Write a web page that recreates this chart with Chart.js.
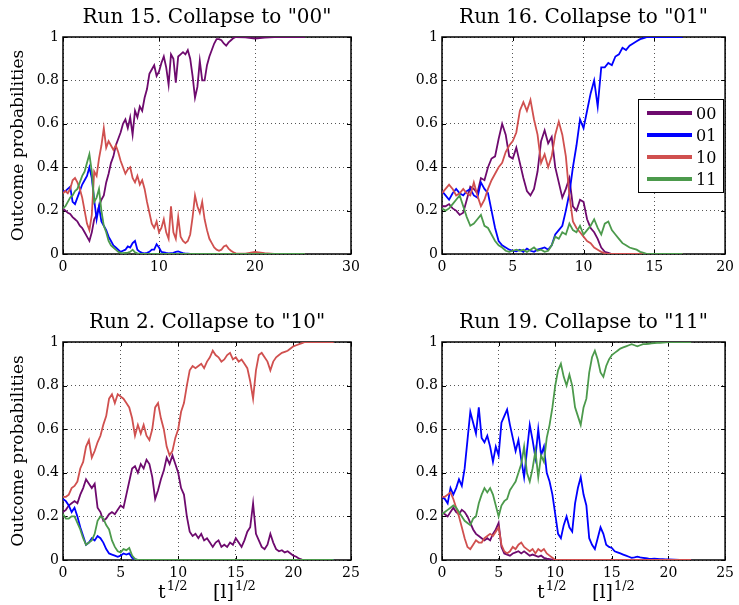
<!DOCTYPE html>
<html>
<head>
<meta charset="utf-8">
<script src="https://cdn.jsdelivr.net/npm/chart.js@4.4.0/dist/chart.umd.min.js"></script>
<style>
body{margin:0;background:#fff;}
#wrap{position:relative;width:739px;height:605px;}
canvas{position:absolute;}
</style>
</head>
<body>
<div id="wrap">
<canvas id="c15" width="370" height="300" style="left:0;top:0"></canvas>
<canvas id="c16" width="369" height="300" style="left:370px;top:0"></canvas>
<canvas id="c2" width="370" height="305" style="left:0;top:300px"></canvas>
<canvas id="c19" width="369" height="305" style="left:370px;top:300px"></canvas>
</div>
<script>
/**************************donnees*********************************/
const outcomes = ['00', '01', '10', '11'];
const colors = ['#6e0a6e', '#0000ff', '#d0504f', '#4c9a4c'];
const yTickLabels = ['0', '0.2', '0.4', '0.6', '0.8', '1'];

// Run 15, collapse to "00"
const t15 = [0,0.25,0.5,0.75,1,1.25,1.5,1.75,2,2.25,2.5,2.75,3,3.25,3.5,3.75,4,4.25,4.5,4.75,
  5,5.25,5.5,5.75,6,6.25,6.5,6.75,7,7.25,7.5,7.75,8,8.25,8.5,8.75,9,9.25,9.5,9.75,
  10,10.25,10.5,10.75,11,11.25,11.5,11.75,12,12.25,12.5,12.75,13,13.25,13.5,13.75,14,14.25,14.5,14.75,
  15,15.25,15.5,15.75,16,16.25,16.5,16.75,17,17.25,17.5,17.75,18,19,20,21,22,23,24,25.2];
const r15_00 = [.21,.20,.19,.185, .17,.16,.15,.13, .12,.10,.08,.06, .10,.16,.18,.22, .25,.27,.33,.37,
  .42,.45,.50,.53, .56,.60,.62,.58, .63,.55,.66,.63, .68,.66,.72,.76, .83,.85,.87,.82,
  .84,.88,.91,.86, .78,.92,.90,.79, .91,.92,.93,.92, .94,.90,.82,.72, .77,.89,.80,.80,
  .87,.91,.94,.97, .99,.99,.985,.97, .96,.975,.985,.995, 1, .998,.993,.997,1,1,1,1];
const r15_01 = [.29,.29,.30,.31, .24,.23,.26,.29, .32,.34,.36,.40, .35,.25,.16,.22, .15,.13,.11,.08,
  .06,.04,.03,.02, .01,.015,.02,.035, .03,.05,.06,.02, .01,.005,.003,.005, .01,.02,.02,.045,
  .03,.01,.008,.005, .003,.004,.005,.01, .012,.008,.004,.002, .002,.001,.001,.001, 0,0,0,0,
  0,0,0,0, 0,0,0,0, 0,0,0,0, 0, 0,0,0,0,0,0,0];
const r15_10 = [.28,.29,.28,.30, .34,.35,.33,.30, .26,.20,.14,.11, .18,.38,.36,.44, .50,.58,.49,.52,
  .50,.48,.50,.47, .43,.40,.37,.39, .40,.35,.33,.36, .32,.34,.30,.24, .19,.14,.12,.15,
  .10,.12,.16,.10, .07,.22,.10,.07, .17,.08,.06,.05, .06,.09,.17,.27, .22,.19,.24,.16,
  .11,.07,.05,.03, .02,.015,.02,.035, .04,.025,.015,.008, .003, .002,.01,.004,0,0,0,0];
const r15_11 = [.21,.22,.24,.26, .27,.29,.30,.33, .36,.38,.42,.46, .38,.24,.26,.30, .20,.13,.10,.06,
  .04,.03,.02,.01, .005,.004,.005,.006, .01,.02,.008,.003, 0,0,0,0, 0,0,0,0,
  0,0,0,0, 0,0,0,0, 0,0,0,0, 0,0,0,0, 0,0,0,0,
  0,0,0,0, 0,0,0,0, 0,0,0,0, 0, 0,0,0,0,0,0,0];

// Run 16, collapse to "01"
const t16 = [0,0.25,0.5,0.75,1,1.25,1.5,1.75,2,2.25,2.5,2.75,3,3.25,3.5,3.75,4,4.25,4.5,4.75,
  5,5.25,5.5,5.75,6,6.25,6.5,6.75,7,7.25,7.5,7.75,8,8.25,8.5,8.75,9,9.25,9.5,9.75,
  10,10.25,10.5,10.75,11,11.25,11.5,11.75,12,12.25,12.5,12.75,13,13.25,13.5,13.75,14,14.25,14.5,15,16,17];
const r16_00 = [.22,.22,.23,.21, .20,.18,.19,.25, .31,.30,.28,.35, .34,.40,.44,.45, .53,.60,.55,.45,
  .44,.49,.42,.35, .29,.27,.30,.38, .52,.57,.51,.54, .40,.33,.26,.30, .35,.22,.20,.25,
  .24,.16,.12,.10, .07,.03,.01,.005, 0,0,0,0, 0,0,0,0, 0,0,0, 0,0,0];
const r16_01 = [.29,.27,.25,.28, .30,.28,.27,.29, .30,.27,.26,.33, .30,.28,.20,.12, .06,.04,.03,.02,
  .015,.012,.02,.01, .025,.015,.01,.02, .025,.03,.02,.04, .09,.11,.13,.20, .28,.40,.50,.62,
  .58,.66,.74,.80, .68,.86,.86,.88, .87,.91,.92,.95, .94,.96,.97,.98, .99,.995,1, 1,1,1];
const r16_10 = [.28,.30,.32,.30, .27,.28,.30,.28, .27,.33,.27,.22, .25,.30,.34,.37, .40,.42,.47,.50,
  .52,.56,.66,.70, .66,.71,.62,.55, .42,.46,.40,.45, .55,.61,.55,.45, .27,.15,.12,.10,
  .08,.06,.05,.03, .02,.01,.003,0, 0,0,0,0, 0,0,0,0, 0,0,0, 0,0,0];
const r16_11 = [.21,.20,.21,.23, .25,.27,.22,.17, .13,.14,.16,.18, .13,.12,.09,.06, .04,.03,.015,.01,
  .015,.02,.015,.02, .01,.02,.03,.015, .02,.01,.015,.04, .08,.07,.10,.09, .14,.11,.10,.13,
  .09,.11,.13,.16, .12,.09,.14,.15, .11,.09,.07,.05, .04,.03,.025,.02, .01,.005,0, 0,0,0];

// Run 2, collapse to "10"
const t2 = [0,0.25,0.5,0.75,1,1.25,1.5,1.75,2,2.25,2.5,2.75,3,3.25,3.5,3.75,4,4.25,4.5,4.75,
  5,5.25,5.5,5.75,6,6.25,6.5,6.75,7,7.25,7.5,7.75,8,8.25,8.5,8.75,9,9.25,9.5,9.75,
  10,10.25,10.5,10.75,11,11.25,11.5,11.75,12,12.25,12.5,12.75,13,13.25,13.5,13.75,14,14.25,14.5,14.75,
  15,15.25,15.5,15.75,16,16.25,16.5,16.75,17,17.25,17.5,17.75,18,18.25,18.5,18.75,19,19.25,19.5,19.75,
  20,20.25,20.5,20.75,21,22,23,23.5];
const r2_00 = [.22,.23,.25,.26, .27,.26,.30,.33, .37,.35,.33,.35, .24,.22,.18,.19, .21,.22,.21,.23,
  .25,.24,.30,.36, .42,.43,.40,.44, .42,.46,.44,.38, .28,.32,.37,.41, .47,.44,.48,.44,
  .40,.33,.30,.20, .13,.11,.12,.10, .12,.09,.10,.08, .06,.08,.09,.06, .07,.06,.08,.07,
  .10,.08,.06,.09, .13,.15,.26,.12, .09,.06,.05,.07, .12,.08,.05,.04, .045,.035,.04,.03,
  .02,.015,.006,.002, 0, 0,0,0];
const r2_01 = [.28,.27,.25,.22, .24,.20,.15,.11, .07,.08,.10,.09, .11,.10,.08,.05, .03,.025,.02,.015,
  .02,.03,.025,.03, .01,.003,0,0, 0,0,0,0, 0,0,0,0, 0,0,0,0,
  0,0,0,0, 0,0,0,0, 0,0,0,0, 0,0,0,0, 0,0,0,0,
  0,0,0,0, 0,0,0,0, 0,0,0,0, 0,0,0,0, 0,0,0,0,
  0,0,0,0, 0, 0,0,0];
const r2_10 = [.29,.29,.30,.33, .34,.36,.42,.45, .52,.55,.47,.50, .54,.57,.62,.66, .74,.76,.72,.76,
  .75,.74,.72,.70, .65,.57,.62,.58, .62,.57,.55,.60, .70,.72,.65,.60, .52,.48,.50,.56,
  .60,.68,.72,.80, .87,.89,.88,.89, .90,.88,.91,.93, .96,.94,.93,.91, .92,.94,.95,.92,
  .93,.91,.92,.90, .88,.82,.74,.87, .94,.95,.93,.91, .87,.91,.93,.94, .95,.955,.96,.97,
  .98,.985,.99,.995, 1, 1,1,1];
const r2_11 = [.21,.19,.19,.20, .20,.17,.14,.10, .07,.08,.09,.12, .18,.20,.19,.16, .14,.09,.06,.04,
  .035,.05,.045,.055, .02,.005,0,0, 0,0,0,0, 0,0,0,0, 0,0,0,0,
  0,0,0,0, 0,0,0,0, 0,0,0,0, 0,0,0,0, 0,0,0,0,
  0,0,0,0, 0,0,0,0, 0,0,0,0, 0,0,0,0, 0,0,0,0,
  0,0,0,0, 0, 0,0,0];

// Run 19, collapse to "11"
const t19 = [0,0.25,0.5,0.75,1,1.25,1.5,1.75,2,2.25,2.5,2.75,3,3.25,3.5,3.75,4,4.25,4.5,4.75,
  5,5.25,5.5,5.75,6,6.25,6.5,6.75,7,7.25,7.5,7.75,8,8.25,8.5,8.75,9,9.25,9.5,9.75,
  10,10.25,10.5,10.75,11,11.25,11.5,11.75,12,12.25,12.5,12.75,13,13.25,13.5,13.75,14,14.25,14.5,14.75,
  15,15.25,15.5,15.75,16,16.25,16.5,16.75,17,17.25,17.5,17.75,18,18.25,18.5,18.75,19,19.25,19.5,19.75,
  20,21,22];
const r19_00 = [.22,.21,.20,.22, .24,.22,.21,.23, .22,.20,.17,.14, .12,.11,.10,.09, .10,.09,.12,.14,
  .17,.06,.03,.025, .02,.03,.035,.04, .03,.04,.03,.02, .025,.02,.015,.02, .01,.006,.004,.002,
  0,0,0,0, 0,0,0,0, 0,0,0,0, 0,0,0,0, 0,0,0,0,
  0,0,0,0, 0,0,0,0, 0,0,0,0, 0,0,0,0, 0,0,0,0,
  0, 0,0];
const r19_01 = [.29,.28,.26,.33, .30,.33,.37,.34, .42,.55,.68,.63, .58,.70,.56,.54, .57,.52,.45,.52,
  .48,.63,.66,.69, .62,.56,.50,.55, .46,.38,.50,.62, .55,.47,.60,.48, .52,.40,.36,.30,
  .21,.12,.10,.16, .20,.15,.13,.26, .33,.38,.30,.25, .10,.07,.05,.10, .15,.12,.07,.06,
  .055,.04,.035,.03, .025,.02,.015,.01, .012,.015,.012,.01, .008,.006,.005,.006, .005,.004,.004,.003,
  .003, .001,0];
const r19_10 = [.29,.29,.30,.31, .28,.24,.20,.15, .10,.06,.05,.07, .09,.08,.08,.10, .11,.12,.11,.13,
  .15,.07,.04,.03, .04,.06,.05,.07, .08,.06,.05,.04, .05,.03,.05,.04, .05,.03,.02,.01,
  0,0,0,0, 0,0,0,0, 0,0,0,0, 0,0,0,0, 0,0,0,0,
  0,0,0,0, 0,0,0,0, 0,0,0,0, 0,0,0,0, 0,0,0,0,
  0, 0,0];
const r19_11 = [.21,.22,.23,.24, .25,.24,.22,.20, .18,.17,.16,.19, .20,.26,.30,.33, .31,.33,.30,.25,
  .20,.25,.27,.28, .32,.34,.36,.40, .44,.52,.40,.36, .42,.50,.38,.48, .45,.56,.62,.70,
  .80,.87,.90,.84, .80,.85,.80,.70, .66,.62,.70,.74, .86,.93,.96,.92, .86,.84,.89,.92,
  .94,.95,.96,.97, .975,.98,.985,.99, .985,.98,.985,.99, .99,.992,.994,.995, .996,.996,.997,.998,
  .999, 1,1];

/**************************cadre, titres, legende*********************************/
const serif = '"DejaVu Serif", serif';

const frame = {
  id: 'frame',
  beforeDatasetsDraw(chart) {
    const {ctx, chartArea: a, scales: {x, y}} = chart;
    ctx.save();
    ctx.strokeStyle = '#000';
    ctx.lineWidth = 1;
    ctx.beginPath();
    x.ticks.forEach(tk => {
      const px = Math.round(x.getPixelForValue(tk.value)) + 0.5;
      ctx.moveTo(px, a.bottom); ctx.lineTo(px, a.bottom - 4);
      ctx.moveTo(px, a.top); ctx.lineTo(px, a.top + 4);
    });
    y.ticks.forEach(tk => {
      const py = Math.round(y.getPixelForValue(tk.value)) + 0.5;
      ctx.moveTo(a.left, py); ctx.lineTo(a.left + 4, py);
      ctx.moveTo(a.right, py); ctx.lineTo(a.right - 4, py);
    });
    ctx.stroke();
    ctx.lineWidth = 1.5;
    ctx.strokeRect(a.left, a.top, a.right - a.left, a.bottom - a.top);
    ctx.restore();
  },
  afterDraw(chart, args, o) {
    const {ctx, chartArea: a} = chart;
    ctx.save();
    ctx.fillStyle = '#000';
    ctx.textBaseline = 'alphabetic';
    ctx.textAlign = 'center';
    ctx.font = '20px ' + serif;
    ctx.fillText(o.title, (a.left + a.right) / 2, a.top - 14);

    if (o.xlabel) {
      const by = chart.height - 7;
      ctx.textAlign = 'left';
      let bx = a.left + 95;
      ['t', '[l]'].forEach((s, k) => {
        if (k == 1) bx = a.left + 150;
        ctx.font = '19px ' + serif;
        ctx.fillText(s, bx, by);
        const w = ctx.measureText(s).width;
        ctx.font = '13px ' + serif;
        ctx.fillText('1/2', bx + w + 1, by - 8);
      });
    }

    if (o.legend) {
      const lx = a.left + 196, ly = a.top + 62;
      ctx.fillStyle = '#fff';
      ctx.fillRect(lx, ly, 85, 93);
      ctx.strokeStyle = '#000';
      ctx.lineWidth = 1;
      ctx.strokeRect(lx + 0.5, ly + 0.5, 85, 93);
      ctx.font = '16px ' + serif;
      ctx.textAlign = 'left';
      chart.data.datasets.forEach((ds, i) => {
        const yy = ly + 14 + i * 22;
        ctx.strokeStyle = ds.borderColor;
        ctx.lineWidth = 4;
        ctx.beginPath();
        ctx.moveTo(lx + 9, yy); ctx.lineTo(lx + 54, yy);
        ctx.stroke();
        ctx.fillStyle = '#000';
        ctx.fillText(ds.label, lx + 58, yy + 6);
      });
    }
    ctx.restore();
  }
};

/**************************graphiques*********************************/
function panel(id, title, t, series, xMax, xStep, lay) {
  const datasets = series.map((vals, i) => ({
    label: outcomes[i],
    data: t.map((tx, k) => ({x: tx, y: vals[k]})),
    borderColor: colors[i],
    borderWidth: 1.8,
    pointRadius: 0,
    tension: 0,
    fill: false,
    order: 4 - i
  }));
  return new Chart(document.getElementById(id), {
    type: 'line',
    data: {datasets: datasets},
    plugins: [frame],
    options: {
      responsive: false,
      animation: false,
      layout: {autoPadding: false, padding: {left: 0, top: lay.top, right: lay.right, bottom: 0}},
      plugins: {
        legend: {display: false},
        tooltip: {enabled: false},
        frame: {title: title, xlabel: lay.xlabel, legend: lay.legend}
      },
      scales: {
        x: {
          type: 'linear', min: 0, max: xMax,
          ticks: {stepSize: xStep, color: '#000', padding: 5, font: {family: serif, size: 14}},
          grid: {color: '#555', drawTicks: false},
          border: {display: false, dash: [1, 3]},
          afterFit: s => { s.height = lay.xh; }
        },
        y: {
          min: 0, max: 1,
          ticks: {stepSize: 0.2, color: '#000', padding: 4, font: {family: serif, size: 14},
            callback: v => yTickLabels[Math.round(v * 5)]},
          grid: {color: '#555', drawTicks: false},
          border: {display: false, dash: [1, 3]},
          title: {display: lay.ylabel, text: 'Outcome probabilities', color: '#000',
            font: {family: serif, size: 17}, padding: {top: 8, bottom: 0}},
          afterFit: s => { s.width = lay.yw; }
        }
      }
    }
  });
}

panel('c15', 'Run 15. Collapse to "00"', t15, [r15_00, r15_01, r15_10, r15_11], 30, 10,
  {top: 37, right: 19, yw: 63, xh: 46, ylabel: true});
panel('c16', 'Run 16. Collapse to "01"', t16, [r16_00, r16_01, r16_10, r16_11], 20, 5,
  {top: 37, right: 9, yw: 72, xh: 46, legend: true});
panel('c2', 'Run 2. Collapse to "10"', t2, [r2_00, r2_01, r2_10, r2_11], 25, 5,
  {top: 42, right: 19, yw: 63, xh: 45, ylabel: true, xlabel: true});
panel('c19', 'Run 19. Collapse to "11"', t19, [r19_00, r19_01, r19_10, r19_11], 25, 5,
  {top: 42, right: 9, yw: 72, xh: 45, xlabel: true});
</script>
</body>
</html>
